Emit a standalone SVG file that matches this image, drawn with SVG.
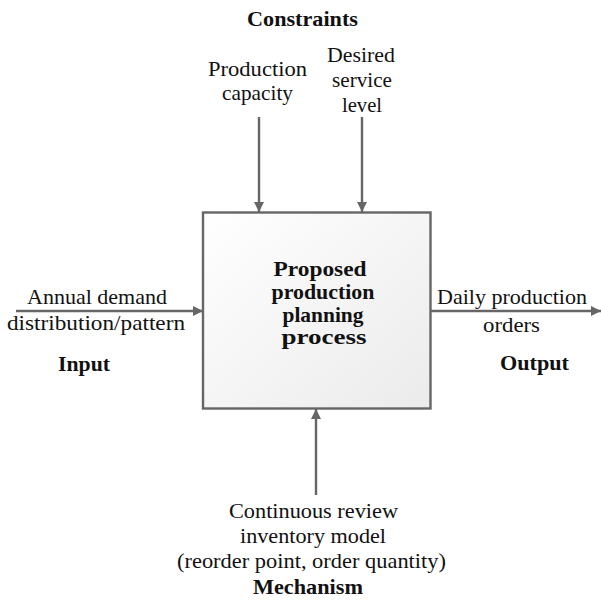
<svg xmlns="http://www.w3.org/2000/svg" width="601" height="603" viewBox="0 0 601 603">
  <style>
    text { font-family: "Liberation Serif", "DejaVu Serif", serif; font-size: 21px; fill: #111; text-anchor: middle; }
    .b { font-weight: bold; }
    .conn { stroke: #666; stroke-width: 2.4; fill: none; }
  </style>
  <defs>
    <linearGradient id="boxFill" x1="0" y1="0" x2="1" y2="1">
      <stop offset="0" stop-color="#ffffff"/>
      <stop offset="1" stop-color="#ebebeb"/>
    </linearGradient>
    <marker id="arrow" viewBox="0 0 10 10" refX="10" refY="5" markerWidth="10" markerHeight="10" markerUnits="userSpaceOnUse" orient="auto">
      <path d="M0,0 L10,5 L0,10 Z" fill="#666"/>
    </marker>
  </defs>
  <rect width="601" height="603" fill="#fff"/>

  <g id="process">
    <rect x="203" y="212.5" width="227.5" height="196" fill="url(#boxFill)" stroke="#666" stroke-width="2.4"/>
    <text class="b" x="320" y="276" textLength="93" lengthAdjust="spacingAndGlyphs">Proposed</text>
    <text class="b" x="323" y="299" textLength="103" lengthAdjust="spacingAndGlyphs">production</text>
    <text class="b" x="323" y="322" textLength="81" lengthAdjust="spacingAndGlyphs">planning</text>
    <text class="b" x="324" y="344" textLength="85" lengthAdjust="spacingAndGlyphs">process</text>
  </g>

  <g id="connectors">
    <line class="conn" x1="259" y1="117" x2="259" y2="212" marker-end="url(#arrow)"/>
    <line class="conn" x1="362" y1="117" x2="362" y2="212" marker-end="url(#arrow)"/>
    <line class="conn" x1="16" y1="311" x2="203" y2="311" marker-end="url(#arrow)"/>
    <line class="conn" x1="431" y1="311" x2="601" y2="311" marker-end="url(#arrow)"/>
    <line class="conn" x1="316" y1="495" x2="316" y2="409" marker-end="url(#arrow)"/>
  </g>

  <g id="constraints">
    <text class="b" x="302.5" y="26" textLength="111" lengthAdjust="spacingAndGlyphs">Constraints</text>
    <text x="257.5" y="76" textLength="99" lengthAdjust="spacingAndGlyphs">Production</text>
    <text x="257.5" y="100" textLength="71" lengthAdjust="spacingAndGlyphs">capacity</text>
    <text x="361" y="62" textLength="68" lengthAdjust="spacingAndGlyphs">Desired</text>
    <text x="362" y="87" textLength="60" lengthAdjust="spacingAndGlyphs">service</text>
    <text x="362" y="112" textLength="40" lengthAdjust="spacingAndGlyphs">level</text>
  </g>

  <g id="input">
    <text x="97" y="304" textLength="140" lengthAdjust="spacingAndGlyphs">Annual demand</text>
    <text x="96" y="330" textLength="178" lengthAdjust="spacingAndGlyphs">distribution/pattern</text>
    <text class="b" x="84" y="371" textLength="52" lengthAdjust="spacingAndGlyphs">Input</text>
  </g>

  <g id="output">
    <text x="512" y="304" textLength="150" lengthAdjust="spacingAndGlyphs">Daily production</text>
    <text x="511.5" y="332" textLength="57" lengthAdjust="spacingAndGlyphs">orders</text>
    <text class="b" x="534.5" y="370" textLength="69" lengthAdjust="spacingAndGlyphs">Output</text>
  </g>

  <g id="mechanism">
    <text x="313.5" y="518" textLength="169" lengthAdjust="spacingAndGlyphs">Continuous review</text>
    <text x="313" y="543" textLength="146" lengthAdjust="spacingAndGlyphs">inventory model</text>
    <text x="311.5" y="568" textLength="269" lengthAdjust="spacingAndGlyphs">(reorder point, order quantity)</text>
    <text class="b" x="308" y="594" textLength="110" lengthAdjust="spacingAndGlyphs">Mechanism</text>
  </g>
</svg>
